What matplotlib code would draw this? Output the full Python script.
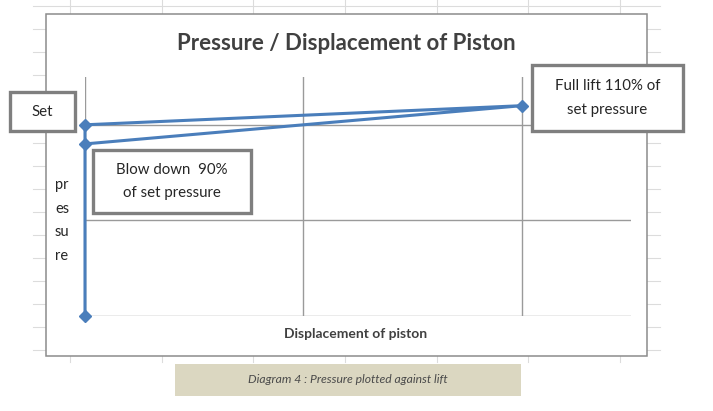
import matplotlib
matplotlib.use("Agg")
import matplotlib.pyplot as plt
from matplotlib.patches import Rectangle

plt.rcParams['font.family'] = ['Lato', 'DejaVu Sans']

# data: pressure vs displacement of the piston
displacement = [0, 0, 2, 0]
pressure = [0, 100, 110, 90]
x_ticks = [0, 1, 2]
y_ticks = [0, 50, 100]

title = "Pressure / Displacement of Piston"
x_label = "Displacement of piston"
y_label = ["pr", "es", "su", "re"]
caption = "Diagram 4 : Pressure plotted against lift"

W, H = 713, 411
fig = plt.figure(figsize=(W / 100, H / 100), dpi=100)

# background: spreadsheet cells + chart area
bg = fig.add_axes([0, 0, 1, 1], zorder=0)
bg.set_xlim(0, W)
bg.set_ylim(H, 0)
bg.axis('off')
cell_col = '#dcdcdc'
for cx in [70, 162, 253, 345, 437, 528, 620]:
    bg.plot([cx, cx], [0, 362], color=cell_col, lw=0.8, zorder=1)
for k in range(16):
    ry = 6 + 22.9 * k
    bg.plot([33, 660], [ry, ry], color=cell_col, lw=0.8, zorder=1)
bg.add_patch(Rectangle((46, 14), 601, 342, facecolor='white',
                       edgecolor='#8c8c8c', lw=1.1, zorder=3))

# plot area
left, right, top, bottom = 85, 631, 77, 316
ax = fig.add_axes([left / W, (H - bottom) / H, (right - left) / W, (bottom - top) / H],
                  zorder=1)
ax.patch.set_alpha(0)
ax.plot(displacement, pressure, color='#4a7ebb', lw=2.2, marker='D',
        markersize=6, clip_on=False, zorder=3)
ax.set_xlim(0, 2.5)
ax.set_ylim(0, 125)
ax.set_xticks(x_ticks)
ax.set_yticks(y_ticks)
ax.grid(True, color='#9a9a9a', lw=1.0)
ax.tick_params(length=0, labelbottom=False, labelleft=False)
for s in ax.spines.values():
    s.set_visible(False)

# overlay: texts and callout boxes
ov = fig.add_axes([0, 0, 1, 1], zorder=2)
ov.set_xlim(0, W)
ov.set_ylim(H, 0)
ov.axis('off')
ov.patch.set_alpha(0)

ov.text(346, 44, title, ha='center', va='center', fontsize=16,
        fontweight='bold', color='#404040')
ov.text(356, 334, x_label, ha='center', va='center', fontsize=10,
        fontweight='bold', color='#404040')
for i, part in enumerate(y_label):
    ov.text(55, 185 + 23.7 * i, part, ha='left', va='center', fontsize=10.5,
            color='#262626')

box_col = '#7f7f7f'
boxes = [
    ((10, 92), 65, 39, ["Set"]),
    ((532, 65), 151, 66, ["Full lift 110% of", "set pressure"]),
    ((93, 150), 158, 63, ["Blow down  90%", "of set pressure"]),
]
for (bx, by), bw, bh, lines in boxes:
    ov.add_patch(Rectangle((bx, by), bw, bh, facecolor='white',
                           edgecolor=box_col, lw=2.4))
    n = len(lines)
    for j, line in enumerate(lines):
        ty = by + bh / 2 + (j - (n - 1) / 2) * 23.5
        ov.text(bx + bw / 2, ty, line, ha='center', va='center',
                fontsize=10.8, color='#262626')

# caption
ov.add_patch(Rectangle((175, 364), 346, 32, facecolor='#dbd7c1', edgecolor='none'))
ov.text(348, 379, caption, ha='center', va='center', fontsize=8.7,
        style='italic', color='#4a4a4a')

fig.savefig('out.png', dpi=100)
